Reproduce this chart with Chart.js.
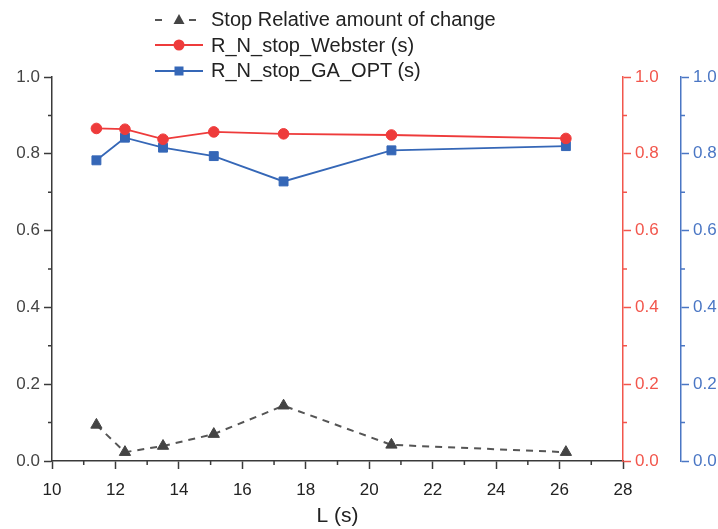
<!DOCTYPE html>
<html lang="en">
<head>
<meta charset="UTF-8">
<title>R_N_stop vs L</title>
<script src="https://cdn.jsdelivr.net/npm/chart.js"></script>
<style>
    body {
        margin: 0;
        background: #fff;
        font-family: 'Liberation Sans', Arial, sans-serif;
    }
    .wrap {
        position: relative;
        width: 718px;
        height: 529px;
    }
    #legend {
        position: absolute;
        left: 155px;
        top: 7px;
    }
    .item {
        display: flex;
        align-items: center;
        height: 25.5px;
        font-size: 20px;
        color: #222;
        white-space: nowrap;
    }
    .item svg {
        margin-right: 6px;
    }
</style>
</head>
<body>
<div class="wrap">
    <canvas id="chart" width="718" height="529"></canvas>
    <div id="legend"></div>
</div>
<script>
// data
const lengths = [11.4, 12.3, 13.5, 15.1, 17.3, 20.7, 26.2];
const stopChange = [0.094, 0.023, 0.039, 0.070, 0.144, 0.042, 0.023];
const websterStop = [0.866, 0.864, 0.838, 0.857, 0.852, 0.849, 0.840];
const gaOptStop = [0.783, 0.842, 0.816, 0.794, 0.728, 0.809, 0.820];

const seriesNames = ['Stop Relative amount of change', 'R_N_stop_Webster (s)', 'R_N_stop_GA_OPT (s)'];
const xTitle = 'L (s)';
const xMinor = [11, 13, 15, 17, 19, 21, 23, 25, 27];
const yMinor = [0.1, 0.3, 0.5, 0.7, 0.9];

const gray = '#3a3a3a';
const red = '#ee3b3b';
const redAxis = '#f2564c';
const blue = '#3567b7';
const blueAxis = '#4a76c4';
const tickFont = { family: "'Liberation Sans', Arial, sans-serif", size: 17 };

function pts(ys) {
    return lengths.map((x, i) => ({ x: x, y: ys[i] }));
}

function axisY(color, labelColor, pos, width) {
    return {
        type: 'linear',
        position: pos,
        min: 0,
        max: 1,
        ticks: {
            stepSize: 0.2,
            color: labelColor,
            font: tickFont,
            padding: 4,
            callback: v => v.toFixed(1)
        },
        grid: { drawOnChartArea: false, drawTicks: true, tickLength: 8, tickColor: color, tickWidth: 1.5 },
        border: { display: true, color: color, width: 1.5 },
        afterFit: s => { s.width = width; }
    };
}

// short ticks between the labelled ones
const minorTicks = {
    id: 'minorTicks',
    afterDraw(chart) {
        const ctx = chart.ctx;
        const s = chart.scales;
        ctx.save();
        ctx.lineWidth = 1.5;
        ctx.strokeStyle = gray;
        ctx.beginPath();
        xMinor.forEach(v => {
            const px = s.x.getPixelForValue(v);
            ctx.moveTo(px, s.x.top);
            ctx.lineTo(px, s.x.top + 4);
        });
        yMinor.forEach(v => {
            const py = s.y.getPixelForValue(v);
            ctx.moveTo(s.y.right, py);
            ctx.lineTo(s.y.right - 4, py);
        });
        ctx.stroke();
        [['y1', redAxis], ['y2', blueAxis]].forEach(([id, c]) => {
            ctx.strokeStyle = c;
            ctx.beginPath();
            yMinor.forEach(v => {
                const py = s[id].getPixelForValue(v);
                ctx.moveTo(s[id].left, py);
                ctx.lineTo(s[id].left + 4, py);
            });
            ctx.stroke();
        });
        ctx.restore();
    }
};

const chart = new Chart(document.getElementById('chart'), {
    type: 'line',
    data: {
        datasets: [
            {
                label: seriesNames[0],
                data: pts(stopChange),
                yAxisID: 'y',
                borderColor: '#555',
                borderWidth: 2,
                borderDash: [7, 6],
                pointStyle: 'triangle',
                pointRadius: 6.5,
                pointBackgroundColor: '#444',
                pointBorderColor: '#444',
                pointBorderWidth: 1
            },
            {
                label: seriesNames[1],
                data: pts(websterStop),
                yAxisID: 'y1',
                borderColor: red,
                borderWidth: 1.8,
                pointStyle: 'circle',
                pointRadius: 5.3,
                pointBackgroundColor: red,
                pointBorderColor: red,
                pointBorderWidth: 1
            },
            {
                label: seriesNames[2],
                data: pts(gaOptStop),
                yAxisID: 'y2',
                borderColor: blue,
                borderWidth: 1.8,
                pointStyle: 'rect',
                pointRadius: 6.3,
                pointBackgroundColor: blue,
                pointBorderColor: blue,
                pointBorderWidth: 1
            }
        ]
    },
    options: {
        responsive: false,
        animation: false,
        layout: { padding: { top: 77, left: 0, right: 0, bottom: 0 } },
        plugins: {
            legend: { display: false },
            tooltip: { enabled: false }
        },
        scales: {
            x: {
                type: 'linear',
                min: 10,
                max: 28,
                ticks: { stepSize: 2, color: '#222', font: tickFont, padding: 11 },
                grid: { drawOnChartArea: false, drawTicks: true, tickLength: 8, tickColor: gray, tickWidth: 1.5 },
                border: { display: true, color: gray, width: 1.5 },
                title: {
                    display: true,
                    text: xTitle,
                    color: '#222',
                    font: { family: "'Liberation Sans', Arial, sans-serif", size: 21 },
                    padding: { top: 0, bottom: 0 }
                },
                afterFit: s => { s.height = 68; }
            },
            y: axisY(gray, '#444', 'left', 52),
            y1: axisY(redAxis, redAxis, 'right', 58),
            y2: axisY(blueAxis, blueAxis, 'right', 37)
        }
    },
    plugins: [minorTicks]
});

// legend in html, three rows like the original
const legendEl = document.getElementById('legend');
chart.data.datasets.forEach(ds => {
    const c = ds.borderColor;
    const f = ds.pointBackgroundColor;
    let line, mark;
    if (ds.borderDash) {
        line = `<line x1="0" y1="10" x2="7" y2="10" stroke="${c}" stroke-width="2"/>` +
               `<line x1="34" y1="10" x2="41" y2="10" stroke="${c}" stroke-width="2"/>`;
    } else {
        line = `<line x1="0" y1="10" x2="48" y2="10" stroke="${c}" stroke-width="1.8"/>`;
    }
    if (ds.pointStyle === 'triangle') {
        mark = `<polygon points="24,4 29.5,14 18.5,14" fill="${f}"/>`;
    } else if (ds.pointStyle === 'circle') {
        mark = `<circle cx="24" cy="10" r="5.5" fill="${f}"/>`;
    } else {
        mark = `<rect x="19.5" y="5.5" width="9" height="9" fill="${f}"/>`;
    }
    const row = document.createElement('div');
    row.className = 'item';
    row.innerHTML = `<svg width="50" height="20">${line}${mark}</svg><span>${ds.label}</span>`;
    legendEl.appendChild(row);
});
</script>
</body>
</html>
